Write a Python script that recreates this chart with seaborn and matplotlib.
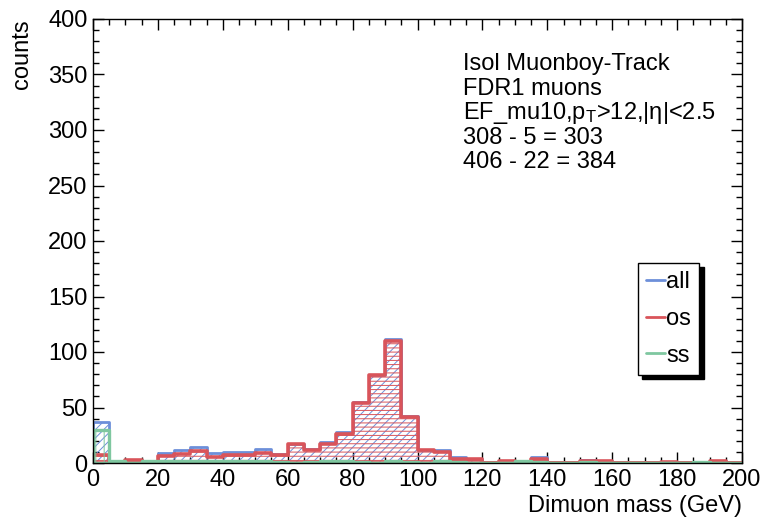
import numpy as np
import pandas as pd
import seaborn as sns
import matplotlib
matplotlib.use("Agg")
import matplotlib.pyplot as plt
from matplotlib.lines import Line2D
from matplotlib.ticker import MultipleLocator

# ---- data: 5 GeV bins from 0 to 200 GeV ----
bin_edges = list(range(0, 205, 5))
all_counts = [37, 2, 3, 2, 9, 12, 14, 9, 10, 10, 13, 8, 17, 13, 19, 28, 55, 79, 112, 42,
              12, 12, 5, 4, 0, 2, 2, 5, 0, 0, 3, 2, 0, 0, 0, 1, 0, 1, 2, 0]
os_counts = [7, 0, 3, 0, 6, 8, 11, 5, 7, 7, 9, 7, 17, 12, 17, 26, 54, 79, 110, 41,
             12, 10, 4, 4, 0, 2, 0, 4, 0, 0, 2, 2, 0, 0, 0, 1, 0, 0, 2, 0]
ss_counts = [30, 2, 0, 2, 2, 2, 2, 2, 2, 2, 2, 1, 0, 1, 2, 2, 1, 0, 2, 1,
             0, 2, 1, 0, 0, 0, 2, 1, 0, 0, 1, 0, 0, 0, 0, 0, 0, 1, 0, 0]
series_names = ["all", "os", "ss"]
series_colors = ["#6d8fd9", "#d9545a", "#7fc7a0"]
series_hatches = ["////", "----", "||"]
series_lw = [2.0, 2.6, 2.4]
text_lines = ["Isol Muonboy-Track", "FDR1 muons",
              r"EF_mu10,p$_{\mathregular{T}}$>12,|$\eta$|<2.5",
              "308 - 5 = 303", "406 - 22 = 384"]

edges_arr = np.array(bin_edges, dtype=float)
centers = (edges_arr[:-1] + edges_arr[1:]) / 2
df = pd.DataFrame({"mass": np.tile(centers, 3),
                   "counts": np.array(all_counts + os_counts + ss_counts, dtype=float),
                   "series": np.repeat(series_names, len(centers))})

sns.set_style("ticks")
plt.rcParams["font.family"] = ["Liberation Sans", "DejaVu Sans"]
plt.rcParams["mathtext.fontset"] = "custom"
plt.rcParams["mathtext.rm"] = "Liberation Sans"
plt.rcParams["mathtext.it"] = "Liberation Sans"
plt.rcParams["hatch.linewidth"] = 0.7
for k in ["text.color", "axes.labelcolor", "xtick.color", "ytick.color", "axes.edgecolor"]:
    plt.rcParams[k] = "black"

FS = 17

fig = plt.figure(figsize=(7.66, 5.2), dpi=100)
ax = fig.add_axes([93 / 766, 1 - 463 / 520, (742 - 93) / 766, (463 - 19) / 520])

for name, col, hatch, lw in zip(series_names, series_colors, series_hatches, series_lw):
    sub = df[df["series"] == name].reset_index(drop=True)
    n_before = len(ax.collections)
    with plt.rc_context({"hatch.color": col}):
        sns.histplot(data=sub, x="mass", weights="counts", bins=bin_edges,
                     element="step", fill=True, color=col, ax=ax)
    for coll in ax.collections[n_before:]:
        coll.set_facecolor("none")
        coll.set_edgecolor(col)
        coll.set_linewidth(lw)
        coll.set_hatch(hatch)
        coll.set_alpha(1)

ax.set_xlim(0, 200)
ax.set_ylim(0, 400)
ax.xaxis.set_major_locator(MultipleLocator(20))
ax.xaxis.set_minor_locator(MultipleLocator(5))
ax.yaxis.set_major_locator(MultipleLocator(50))
ax.yaxis.set_minor_locator(MultipleLocator(10))
ax.tick_params(which="both", direction="in", top=True, right=True, labelsize=FS,
               width=1, color="black", labelcolor="black")
ax.tick_params(which="major", length=8, pad=4)
ax.tick_params(which="minor", length=4)
for s in ax.spines.values():
    s.set_linewidth(1)
    s.set_color("black")

ax.set_xlabel("Dimuon mass (GeV)", fontsize=FS, loc="right", labelpad=3)
ax.set_ylabel("counts", fontsize=FS, loc="top", labelpad=11)

for i, line in enumerate(text_lines):
    fig.text(463 / 766, 1 - (64 + 24.5 * i) / 520, line, fontsize=FS,
             ha="left", va="center")

handles = [Line2D([0], [0], color=c, lw=2) for c in series_colors]
leg = ax.legend(handles, series_names, loc="upper left",
                bbox_to_anchor=(638 / 766, 1 - 263 / 520), bbox_transform=fig.transFigure,
                frameon=True, fancybox=False, fontsize=FS, handlelength=0.8,
                handletextpad=0.05, labelspacing=0.62, borderpad=0.35, borderaxespad=0,
                shadow={"ox": 3, "oy": -3, "color": "black", "alpha": 1})
leg.get_frame().set_edgecolor("black")
leg.get_frame().set_linewidth(1)

fig.savefig("out.png", dpi=100)
